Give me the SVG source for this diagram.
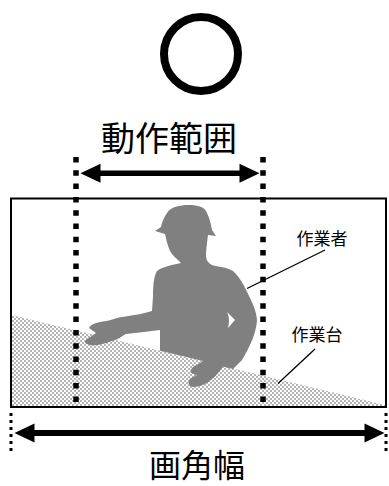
<svg xmlns="http://www.w3.org/2000/svg" width="389" height="486" viewBox="0 0 389 486">
  <style>
    .jp { font-family: "Noto Sans CJK JP", "Noto Sans", sans-serif; fill: #000; text-anchor: middle; }
    .big { font-size: 34px; }
    .bottom { font-size: 32px; }
    .small { font-size: 17px; }
    .dots { stroke: #000; stroke-width: 5.5; stroke-dasharray: 5.5 7.8; fill: none; }
    .fine-dots { stroke: #000; stroke-width: 3; stroke-dasharray: 3 4; fill: none; }
    .shaft { stroke: #000; fill: none; }
    .leader { stroke: #000; stroke-width: 1.3; fill: none; }
  </style>
  <defs>
    <pattern id="checker" x="0" y="0" width="4" height="4" patternUnits="userSpaceOnUse">
      <rect width="4" height="4" fill="#fff"/>
      <rect x="0" y="0" width="2" height="2" fill="#b4b4b4"/>
      <rect x="2" y="2" width="2" height="2" fill="#b4b4b4"/>
    </pattern>
    <marker id="head" markerUnits="userSpaceOnUse" viewBox="0 0 20 19" markerWidth="20" markerHeight="19" refX="0.5" refY="9.5" orient="auto-start-reverse" overflow="visible">
      <path d="M0,0 L20,9.5 L0,19 Z" fill="#000"/>
    </marker>
  </defs>

  <!-- OK mark -->
  <g id="ok-mark">
    <circle cx="201" cy="54" r="37" fill="none" stroke="#000" stroke-width="8"/>
  </g>

  <!-- work table (checkered area) -->
  <g id="table">
    <polygon points="12,315 385,405 385,407 12,407" fill="url(#checker)"/>
  </g>

  <!-- worker silhouette -->
  <g id="worker">
    <path fill="#808080" d="M167,213
      C170,207 180,205 189,205
      C198,205 205,207 207,213
      C210,219 211,225 212,230
      L216,236 L208,235
      C207,243 206,250 206,255
      C206,260 208,263 212,265
      C218,267 227,267 233,271
      C240,277 245,287 249,296
      C253,304 257,313 257,321
      C256,333 250,347 242,360
      L233,369
      L223,366.5
      C220,371 216,376 212,379
      C208,383 200,387 193,387
      C188,386 187,381 191,378
      L197,375 L191,373
      C190,369 193,366 197,365
      L203,361
      L180,355.6
      L160,350.8
      L160,330
      C150,331 138,333 126,334
      C122,336 118,340 112,341
      C104,344 96,346 90,345
      C85,344 84,342 86,340
      L96,333 L89,328
      C90,325 95,323 100,322
      C106,321 112,320 117,318
      C125,316 140,315 152,311
      L153,296
      C153,285 154,276 157,271
      C162,267 172,265 181,263
      C176,258 172,255 170,251
      C167,244 166,238 165,234
      L155,231 L161,227
      C162,222 164,217 167,213 Z"/>
    <path fill="#fff" d="M227,312 L235,320 L228,328 C229.5,322 229.5,317 227,312 Z"/>
  </g>

  <!-- image frame -->
  <g id="frame">
    <rect x="11" y="198.5" width="375" height="208.5" fill="none" stroke="#000" stroke-width="2"/>
  </g>

  <!-- connectors: range guides, dimension arrows, leaders -->
  <g id="connectors">
    <line class="dots" x1="76" y1="157" x2="76" y2="404"/>
    <line class="dots" x1="263" y1="157" x2="263" y2="404"/>
    <line class="fine-dots" x1="11" y1="413" x2="11" y2="452"/>
    <line class="fine-dots" x1="386" y1="413" x2="386" y2="452"/>
    <line class="shaft" stroke-width="5.5" x1="100" y1="173.3" x2="240" y2="173.3" marker-start="url(#head)" marker-end="url(#head)"/>
    <line class="shaft" stroke-width="6" x1="34" y1="433" x2="365" y2="433" marker-start="url(#head)" marker-end="url(#head)"/>
    <line class="leader" x1="325" y1="250" x2="247" y2="288.5"/>
    <line class="leader" x1="315" y1="349" x2="278" y2="383.5"/>
  </g>

  <!-- labels -->
  <g id="label-range"><text class="jp big" x="169" y="151">動作範囲</text></g>
  <g id="label-view"><text class="jp bottom" x="197" y="477">画角幅</text></g>
  <g id="label-worker"><text class="jp small" x="322" y="245">作業者</text></g>
  <g id="label-table"><text class="jp small" x="317" y="341">作業台</text></g>
</svg>
